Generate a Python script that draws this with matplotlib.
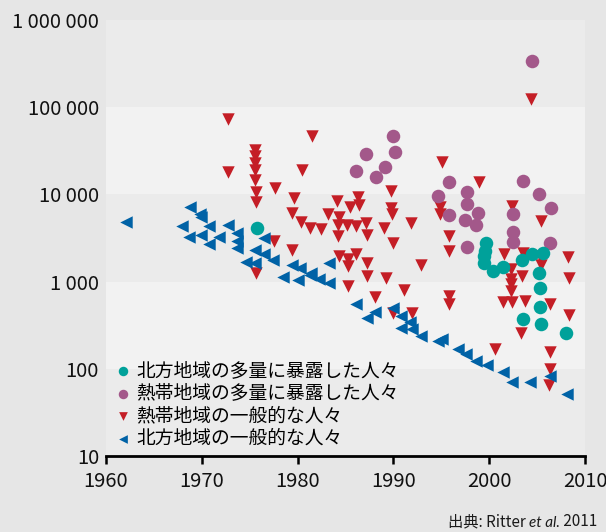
import matplotlib
matplotlib.use('Agg')
import matplotlib.pyplot as plt

# データ
north_high_year = [1975.8, 1999.7, 1999.6, 1999.5, 1999.5, 2000.4, 2001.4, 2003.4,
                   2004.5, 2005.6, 2005.2, 2005.3, 2005.3, 2003.5, 2005.4, 2008.0]
north_high_val = [4140, 2740, 2240, 1950, 1620, 1340, 1470, 1760,
                  2090, 2130, 1240, 850, 515, 376, 330, 260]

tropic_high_year = [1990.0, 1990.2, 1987.1, 1989.1, 1986.1, 1988.2, 1995.8, 2003.5,
                    1994.7, 1997.7, 1997.7, 1998.8, 1995.8, 1997.5, 1998.6, 1997.7,
                    2005.2, 2006.5, 2002.5, 2002.5, 2002.5, 2006.3, 2004.5]
tropic_high_val = [47100, 31000, 29000, 20600, 18700, 15700, 13700, 14400,
                   9600, 10600, 7800, 6150, 5770, 5130, 4450, 2500,
                   10000, 7000, 6000, 3740, 2860, 2800, 340000]

tropic_gen_year = [2004.4, 1972.7, 1981.5, 1972.7, 1995.1, 1998.9, 1980.5, 1977.6,
                   1975.6, 1975.6, 1975.6, 1975.6, 1975.6, 1975.7, 1975.7, 1975.7,
                   1989.8, 1979.6, 1979.4, 1980.4, 1981.3, 1977.5, 1979.4, 1984.1,
                   1986.3, 1986.4, 1985.5, 1989.8, 1989.9, 1983.2, 1984.3, 1994.9,
                   1994.9, 2002.4, 2005.4, 1982.4, 1984.2, 1985.2, 1986.1, 1987.1,
                   1987.2, 1984.2, 1989.0, 1991.8, 1990.0, 1995.8, 1995.8, 1992.9,
                   1984.3, 1985.3, 1985.3, 1986.1, 1987.2, 1987.2, 1989.2, 1985.3,
                   1988.1, 1991.1, 1990.0, 1991.9, 1995.8, 1995.8, 2001.5, 2003.4,
                   2003.5, 2002.3, 2002.3, 2002.3, 2002.3, 2001.4, 2002.4, 2003.7,
                   2005.3, 2005.4, 2006.3, 2008.2, 2008.3, 2008.3, 2003.3, 2000.6,
                   2006.3, 2006.3, 2006.2]
tropic_gen_val = [125000, 73600, 47100, 17900, 23700, 13700, 18900, 11800,
                  32000, 27300, 22900, 18900, 14800, 10600, 8100, 1260,
                  10900, 9100, 6150, 4800, 4150, 2960, 2280, 8300,
                  9300, 7600, 7200, 7000, 5900, 5900, 5500, 7100,
                  5900, 7400, 4900, 3960, 4440, 4440, 4310, 4640,
                  3460, 3300, 4140, 4640, 2740, 3300, 2240, 1530,
                  1950, 1840, 1510, 2090, 1640, 1150, 1110, 900,
                  660, 810, 440, 440, 690, 550, 2090, 1170,
                  2130, 1380, 1060, 930, 780, 580, 580, 600,
                  1950, 1570, 550, 1900, 1110, 410, 260, 170,
                  154, 99, 65]

north_gen_year = [1962.1, 1968.8, 1969.8, 1969.9, 1967.9, 1970.8, 1972.7, 1968.7,
                  1969.9, 1971.8, 1970.7, 1973.7, 1973.7, 1973.7, 1976.5, 1975.6,
                  1976.5, 1977.4, 1974.6, 1975.6, 1979.4, 1980.3, 1981.3, 1978.5,
                  1980.0, 1982.2, 1983.3, 1983.3, 1981.4, 1986.1, 1987.2, 1988.1,
                  1990.0, 1990.8, 1990.8, 1991.7, 1991.9, 1992.9, 1995.1, 1994.7,
                  1996.7, 1997.6, 1998.6, 1999.8, 2001.4, 2002.4, 2004.3, 2006.3,
                  2008.1]
north_gen_val = [4840, 7200, 5900, 5470, 4370, 4370, 4470, 3240,
                 3440, 3240, 2670, 3630, 2960, 2410, 3170, 2280,
                 2100, 1780, 1700, 1640, 1530, 1450, 1200, 1120,
                 1050, 1060, 960, 1640, 1240, 550, 386, 450,
                 500, 400, 295, 340, 284, 238, 218, 209,
                 168, 147, 123, 110, 93, 70, 71, 83,
                 51]

labels = ['北方地域の多量に暴露した人々', '熱帯地域の多量に暴露した人々',
          '熱帯地域の一般的な人々', '北方地域の一般的な人々']
y_ticks = [10, 100, 1000, 10000, 100000, 1000000]
y_ticklabels = ['10', '100', '1 000', '10 000', '100 000', '1 000 000']
x_ticks = [1960, 1970, 1980, 1990, 2000, 2010]

teal = '#00a19a'
purple = '#a3588a'
red = '#c41e26'
blue = '#0062a6'

plt.rcParams['font.family'] = ['Noto Sans CJK JP', 'DejaVu Sans']

fig = plt.figure(figsize=(6.06, 5.32), dpi=100, facecolor='#e6e6e6')
ax = fig.add_axes([106/606, 76/532, 479/606, 436/532])
ax.set_facecolor('#f2f2f2')

# 背景の帯
band_colors = ['#ebebeb', '#f2f2f2', '#ebebeb', '#f2f2f2', '#ebebeb']
for i, c in enumerate(band_colors):
    ax.axhspan(y_ticks[i], y_ticks[i + 1], color=c, lw=0, zorder=0)

ax.scatter(tropic_gen_year, tropic_gen_val, marker='v', s=80, color=red, lw=0,
           zorder=3, label=labels[2])
ax.scatter(tropic_high_year, tropic_high_val, marker='o', s=95, color=purple, lw=0,
           zorder=4, label=labels[1])
ax.scatter(north_gen_year, north_gen_val, marker='<', s=80, color=blue, lw=0,
           zorder=5, label=labels[3])
ax.scatter(north_high_year, north_high_val, marker='o', s=95, color=teal, lw=0,
           zorder=6, label=labels[0])

ax.set_yscale('log')
ax.set_ylim(10, 1000000)
ax.set_xlim(1960, 2010)
ax.set_yticks(y_ticks)
ax.set_yticklabels(y_ticklabels)
ax.minorticks_off()
ax.set_xticks(x_ticks)

for s in ['top', 'right', 'left']:
    ax.spines[s].set_visible(False)
ax.spines['bottom'].set_linewidth(2)
ax.spines['bottom'].set_color('black')
ax.tick_params(axis='y', length=0, pad=5, labelsize=14.5, colors='#111111')
ax.tick_params(axis='x', length=6, width=1.8, pad=5, labelsize=14.5, colors='#111111')
ax.tick_params(axis='x', color='black')

handles, labs = ax.get_legend_handles_labels()
order = [labs.index(l) for l in labels]
leg = ax.legend([handles[i] for i in order], [labs[i] for i in order],
                loc='lower left', frameon=False, fontsize=13.5,
                markerscale=0.7, handletextpad=0.2, labelspacing=0.08,
                borderaxespad=0.1, handlelength=1.0, borderpad=0.3)

# 出典
t1 = fig.text(448/606, 6/532, '出典: Ritter ', fontsize=11, color='#1a1a1a',
              ha='left', va='baseline')
t2 = ax.annotate('et al.', xy=(1, 0), xycoords=t1, fontsize=11, style='italic',
                 family=['Lato', 'DejaVu Sans'],
                 color='#1a1a1a', ha='left', va='bottom', annotation_clip=False)
ax.annotate(' 2011', xy=(1, 0), xycoords=t2, fontsize=11, color='#1a1a1a',
            ha='left', va='bottom', annotation_clip=False)

fig.savefig('out.png', dpi=100, facecolor=fig.get_facecolor())
